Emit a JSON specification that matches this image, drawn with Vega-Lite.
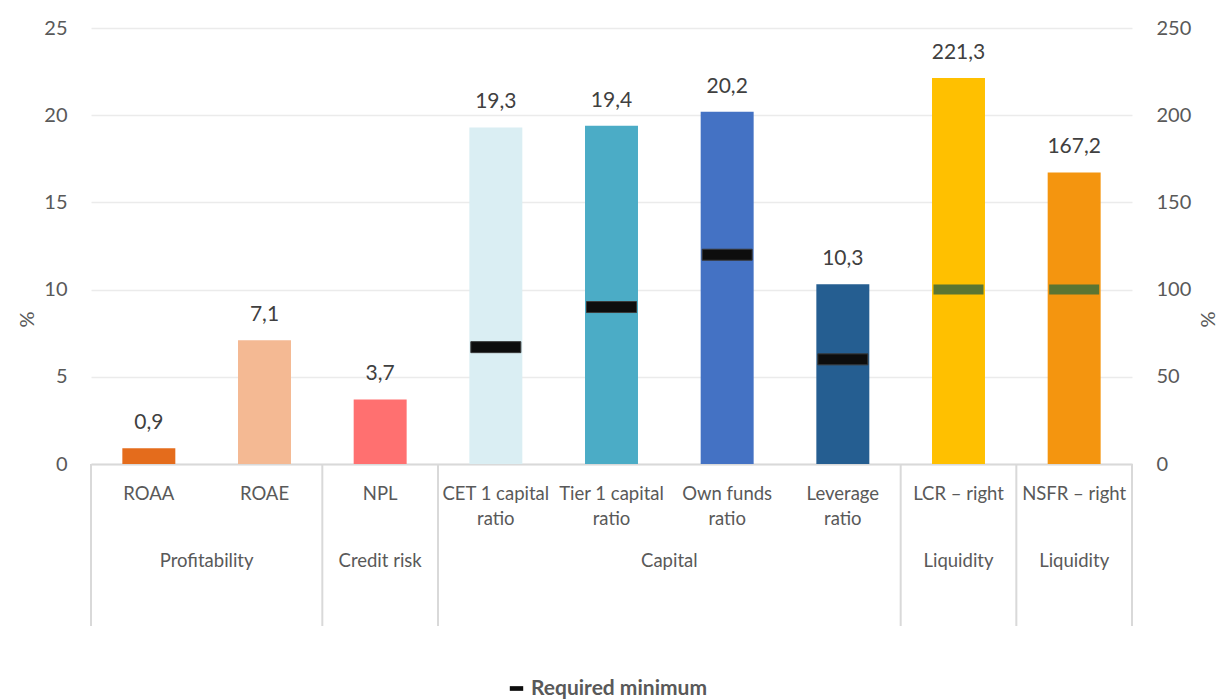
{
  "$schema": "https://vega.github.io/schema/vega-lite/v6.json",
  "padding": {"left": 17, "top": 18, "right": 4, "bottom": 0},
  "spacing": 0,
  "bounds": "flush",
  "config": {
    "font": "Lato",
    "view": {"stroke": null},
    "locale": {"number": {"decimal": ",", "thousands": ".", "grouping": [3], "currency": ["", " €"]}}
  },
  "datasets": {
    "main": [
      {"category": "ROAA", "group": "Profitability", "value": 0.9, "min": null, "side": "left"},
      {"category": "ROAE", "group": "Profitability", "value": 7.1, "min": null, "side": "left"},
      {"category": "NPL", "group": "Credit risk", "value": 3.7, "min": null, "side": "left"},
      {"category": "CET 1 capital ratio", "group": "Capital", "value": 19.3, "min": 6.7, "side": "left"},
      {"category": "Tier 1 capital ratio", "group": "Capital", "value": 19.4, "min": 9.0, "side": "left"},
      {"category": "Own funds ratio", "group": "Capital", "value": 20.2, "min": 12.0, "side": "left"},
      {"category": "Leverage ratio", "group": "Capital", "value": 10.3, "min": 6.0, "side": "left"},
      {"category": "LCR – right", "group": "Liquidity", "value": 221.3, "min": 100, "side": "right"},
      {"category": "NSFR – right", "group": "Liquidity", "value": 167.2, "min": 100, "side": "right"}
    ]
  },
  "resolve": {"scale": {"x": "independent"}},
  "vconcat": [
    {
      "width": 1041,
      "height": 436,
      "data": {"name": "main"},
      "encoding": {
        "x": {
          "field": "category", "type": "nominal", "sort": null,
          "scale": {"domain": ["ROAA", "ROAE", "NPL", "CET 1 capital ratio", "Tier 1 capital ratio", "Own funds ratio", "Leverage ratio", "LCR – right", "NSFR – right"], "paddingInner": 0.542, "paddingOuter": 0.271},
          "axis": {"title": null, "labels": false, "ticks": false, "grid": false, "domainColor": "#d9d9d9", "domainWidth": 2, "minExtent": 0, "maxExtent": 0}
        }
      },
      "layer": [
        {
          "transform": [{"filter": "datum.side == 'left'"}],
          "layer": [
            {
              "mark": {"type": "bar"},
              "encoding": {
                "y": {
                  "field": "value", "type": "quantitative", "title": "%",
                  "scale": {"domain": [0, 25], "padding": 0, "nice": false},
                  "axis": {"orient": "left", "values": [0, 5, 10, 15, 20, 25], "grid": true, "gridColor": "#ebebeb", "gridWidth": 1.5, "domain": false, "ticks": false, "labelPadding": 24, "labelFontSize": 20, "labelColor": "#595959", "titleFontSize": 20, "titleFontWeight": "normal", "titleColor": "#595959", "titlePadding": 6, "titleY": 291}
                },
                "fill": {
                  "field": "category", "type": "nominal", "legend": null,
                  "scale": {
                    "domain": ["ROAA", "ROAE", "NPL", "CET 1 capital ratio", "Tier 1 capital ratio", "Own funds ratio", "Leverage ratio", "LCR – right", "NSFR – right"],
                    "range": ["#e46c1c", "#f4b993", "#ff7070", "#daeef3", "#4bacc6", "#4472c4", "#255e91", "#ffc000", "#f4950f"]
                  }
                }
              }
            },
            {
              "mark": {"type": "text", "baseline": "middle", "dy": -25, "fontSize": 21, "color": "#404040"},
              "encoding": {
                "y": {"field": "value", "type": "quantitative", "title": "%"},
                "text": {"field": "value", "type": "quantitative", "format": ".1f"}
              }
            },
            {
              "transform": [{"filter": "isValid(datum.min)"}],
              "mark": {"type": "tick", "thickness": 11, "size": 50, "opacity": 1, "stroke": "#3a3a3a", "strokeWidth": 1},
              "encoding": {
                "y": {"field": "min", "type": "quantitative", "title": "%"},
                "color": {
                  "datum": "Required minimum", "type": "nominal",
                  "scale": {"domain": ["Required minimum"], "range": ["#0d0d0d"]},
                  "legend": {"orient": "none", "legendX": 415, "legendY": 650, "title": null, "labelFontWeight": "bold", "labelColor": "#595959", "labelFontSize": 21, "labelOffset": 4, "labelLimit": 400, "symbolType": "M-1,-0.35H1V0.35H-1Z", "symbolSize": 180, "symbolStrokeWidth": 0, "symbolOpacity": 1}
                }
              }
            }
          ]
        },
        {
          "transform": [{"filter": "datum.side == 'right'"}],
          "layer": [
            {
              "mark": {"type": "bar"},
              "encoding": {
                "y": {
                  "field": "value", "type": "quantitative", "title": "%",
                  "scale": {"domain": [0, 250], "padding": 0, "nice": false},
                  "axis": {"orient": "right", "values": [0, 50, 100, 150, 200, 250], "grid": false, "domain": false, "ticks": false, "labelPadding": 24, "labelFontSize": 20, "labelColor": "#595959", "titleFontSize": 20, "titleFontWeight": "normal", "titleColor": "#595959", "titlePadding": 28, "titleY": 291, "titleAngle": 270}
                },
                "fill": {"field": "category", "type": "nominal", "legend": null}
              }
            },
            {
              "mark": {"type": "text", "baseline": "middle", "dy": -25, "fontSize": 21, "color": "#404040"},
              "encoding": {
                "y": {"field": "value", "type": "quantitative", "title": "%"},
                "text": {"field": "value", "type": "quantitative", "format": ".1f"}
              }
            },
            {
              "mark": {"type": "tick", "thickness": 10, "size": 50, "opacity": 1, "color": "#5b7532"},
              "encoding": {
                "y": {"field": "min", "type": "quantitative", "title": "%"}
              }
            }
          ]
        }
      ],
      "resolve": {"scale": {"y": "independent"}}
    },
    {
      "width": 1041,
      "height": 162,
      "data": {"name": "main"},
      "encoding": {
        "x": {
          "field": "category", "type": "nominal", "sort": null,
          "scale": {"domain": ["ROAA", "ROAE", "NPL", "CET 1 capital ratio", "Tier 1 capital ratio", "Own funds ratio", "Leverage ratio", "LCR – right", "NSFR – right"], "paddingInner": 0, "paddingOuter": 0},
          "axis": null
        }
      },
      "layer": [
        {
          "transform": [{"calculate": "replace(datum.category, ' ratio', '|ratio')", "as": "label"}],
          "mark": {"type": "text", "baseline": "top", "lineBreak": "|", "lineHeight": 25, "fontSize": 18.5, "color": "#595959"},
          "encoding": {
            "y": {"datum": "cat", "type": "nominal", "scale": {"type": "point", "domain": ["cat", "group"], "padding": 0.566, "align": 0.244}, "axis": null},
            "text": {"field": "label"}
          }
        },
        {
          "transform": [{"filter": "datum.category == 'ROAE' || datum.category == 'Own funds ratio'"}],
          "mark": {"type": "text", "baseline": "middle", "fontSize": 18.5, "color": "#595959"},
          "encoding": {
            "x": {"field": "category", "type": "nominal", "sort": null, "bandPosition": 0},
            "y": {"datum": "group", "type": "nominal"},
            "text": {"field": "group"}
          }
        },
        {
          "transform": [{"filter": "datum.category == 'NPL' || datum.group == 'Liquidity'"}],
          "mark": {"type": "text", "baseline": "middle", "fontSize": 18.5, "color": "#595959"},
          "encoding": {
            "x": {"field": "category", "type": "nominal", "sort": null, "bandPosition": 0.5},
            "y": {"datum": "group", "type": "nominal"},
            "text": {"field": "group"}
          }
        },
        {
          "transform": [{"filter": "datum.category == 'ROAA' || datum.category == 'NPL' || datum.category == 'CET 1 capital ratio' || datum.group == 'Liquidity'"}],
          "mark": {"type": "rule", "color": "#d9d9d9", "strokeWidth": 2},
          "encoding": {
            "x": {"field": "category", "type": "nominal", "sort": null, "bandPosition": 0}
          }
        },
        {
          "transform": [{"filter": "datum.category == 'NSFR – right'"}],
          "mark": {"type": "rule", "color": "#d9d9d9", "strokeWidth": 2},
          "encoding": {
            "x": {"field": "category", "type": "nominal", "sort": null, "bandPosition": 1}
          }
        }
      ]
    }
  ]
}
